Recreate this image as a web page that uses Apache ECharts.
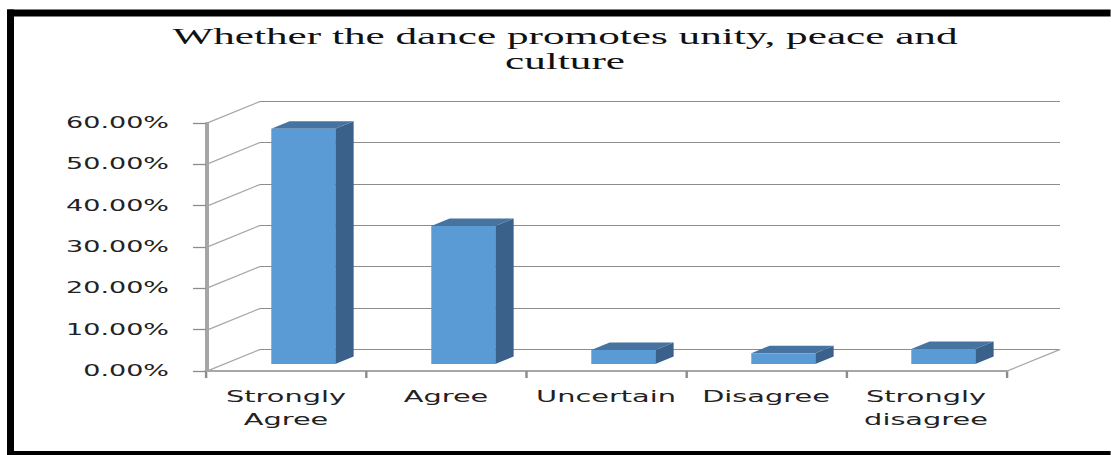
<!DOCTYPE html>
<html>
<head>
<meta charset="utf-8">
<script src="https://cdn.jsdelivr.net/npm/echarts@6/dist/echarts.min.js"></script>
<style>
html,body{margin:0;padding:0;background:#fff;overflow:hidden;width:1111px;height:455px;}
#wrap{position:absolute;left:0;top:0;height:455px;transform-origin:0 0;}
</style>
</head>
<body>
<div id="wrap"></div>
<script>
// ---- data ----
const categories = ['Strongly\nAgree', 'Agree', 'Uncertain', 'Disagree', 'Strongly\ndisagree'];
const values = [0.569, 0.334, 0.034, 0.026, 0.036];
const yTicks = [0, 0.1, 0.2, 0.3, 0.4, 0.5, 0.6];
const titleLines = ['Whether the dance promotes unity, peace and', 'culture'];

// ---- layout (reference is horizontally stretched; draw narrow then stretch) ----
const K = 1.8;
const W = 1111 / K;
const DX = 54 / K, DY = 22;     // depth of the 3D box
const F1 = 0.32, F2 = 0.66;     // bar front/back depth fractions
const BAR_W = 0.4;

const wrap = document.getElementById('wrap');
wrap.style.width = W + 'px';
wrap.style.transform = 'scaleX(' + K + ')';

const chart = echarts.init(wrap, null, { renderer: 'svg', width: W, height: 455 });

function renderWall(params, api) {
  const cs = params.coordSys;
  const v = api.value(1);
  const y = Math.round(api.coord([0, v])[1]) + 0.5;
  const x0 = cs.x, x1 = cs.x + cs.width;
  const yb = y - DY;
  const children = [
    { type: 'line', shape: { x1: x0, y1: y, x2: x0 + DX, y2: yb }, style: { stroke: '#a6a6a6', lineWidth: 1 } },
    { type: 'line', shape: { x1: x0 + DX, y1: yb, x2: x1 + DX, y2: yb }, style: { stroke: '#8c8c8c', lineWidth: 1.2 } }
  ];
  if (v === 0) {
    children.push({ type: 'line', shape: { x1: x1, y1: y, x2: x1 + DX, y2: yb }, style: { stroke: '#a6a6a6', lineWidth: 1 } });
  }
  return { type: 'group', children };
}

function renderBar(params, api) {
  const i = api.value(0), v = api.value(1);
  const base = api.coord([i, 0]), top = api.coord([i, v]);
  const bw = api.size([1, 0])[0] * BAR_W;
  const ox = F1 * DX, oy = -F1 * DY;
  const sx = (F2 - F1) * DX, sy = -(F2 - F1) * DY;
  const xl = base[0] - bw / 2 + ox, xr = base[0] + bw / 2 + ox;
  const yb = base[1] + oy, yt = top[1] + oy;
  return {
    type: 'group',
    children: [
      { type: 'polygon', shape: { points: [[xr, yt], [xr + sx, yt + sy], [xr + sx, yb + sy], [xr, yb]] }, style: { fill: '#3a6189' } },
      { type: 'polygon', shape: { points: [[xl, yt], [xl + sx, yt + sy], [xr + sx, yt + sy], [xr, yt]] }, style: { fill: '#4673a0' } },
      { type: 'rect', shape: { x: xl, y: yt, width: bw, height: yb - yt }, style: { fill: '#5b9bd5' } }
    ]
  };
}

const option = {
  backgroundColor: '#ffffff',
  animation: false,
  grid: { left: 206 / K, right: (1111 - 1006) / K, top: 123, bottom: 84, containLabel: false },
  xAxis: {
    type: 'category',
    data: categories,
    axisLine: { show: true, lineStyle: { color: '#a6a6a6', width: 2 } },
    axisTick: { show: true, length: 7, lineStyle: { color: '#8c8c8c', width: 2 / K * 1.2 } },
    axisLabel: { color: '#222', fontFamily: 'DejaVu Sans', fontSize: 16, lineHeight: 23, margin: 14, interval: 0 },
    splitLine: { show: false }
  },
  yAxis: {
    type: 'value',
    min: 0, max: 0.6, interval: 0.1,
    axisLine: { show: true, lineStyle: { color: '#a6a6a6', width: 4 / K } },
    axisTick: { show: true, length: 13 / K, lineStyle: { color: '#8c8c8c', width: 1.3 } },
    axisLabel: {
      color: '#222', fontFamily: 'DejaVu Sans', fontSize: 15, margin: 37 / K,
      formatter: v => (v * 100).toFixed(2) + '%'
    },
    splitLine: { show: false }
  },
  graphic: [
    { type: 'rect', shape: { x: 7 / K, y: 9.5, width: (1111 - 7) / K, height: 7 }, style: { fill: '#000' } },
    { type: 'rect', shape: { x: 7 / K, y: 9.5, width: 7 / K, height: 446 }, style: { fill: '#000' } },
    { type: 'rect', shape: { x: 7 / K, y: 451, width: (1111 - 7) / K, height: 4 }, style: { fill: '#000' } },
    { type: 'text', x: 565 / K, y: 36, style: { text: titleLines[0], fill: '#111', font: '24px "Liberation Serif"', align: 'center', verticalAlign: 'middle' } },
    { type: 'text', x: 565 / K, y: 61, style: { text: titleLines[1], fill: '#111', font: '24px "Liberation Serif"', align: 'center', verticalAlign: 'middle' } }
  ],
  series: [
    { type: 'custom', z: 1, renderItem: renderWall, data: yTicks.map(v => [0, v]), silent: true },
    { type: 'custom', z: 3, renderItem: renderBar, data: values.map((v, i) => [i, v]), silent: true }
  ]
};
chart.setOption(option);
</script>
</body>
</html>
